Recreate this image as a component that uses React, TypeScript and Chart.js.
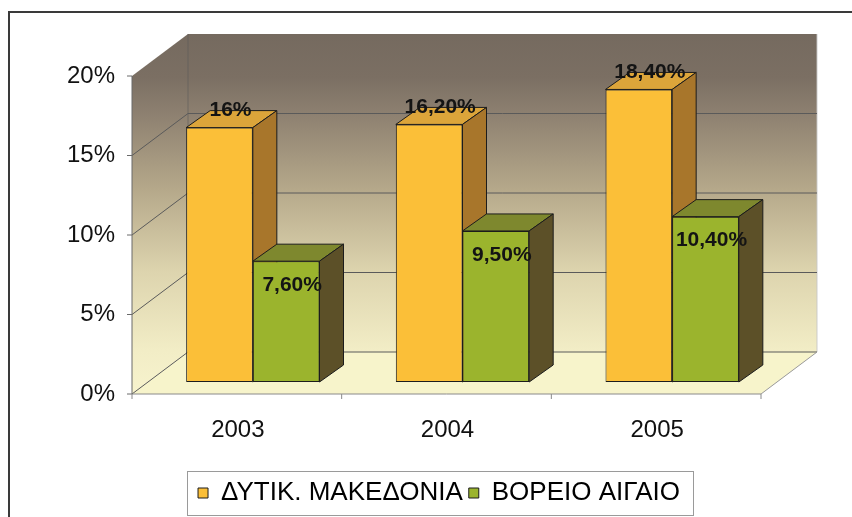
import React, { useEffect, useRef } from 'react';
import { Chart, registerables } from 'chart.js';

Chart.register(...registerables);

const categories = ['2003', '2004', '2005'];
const seriesNames = ['ΔΥΤΙΚ. ΜΑΚΕΔΟΝΙΑ', 'ΒΟΡΕΙΟ ΑΙΓΑΙΟ'];
const westMacedonia = [16, 16.2, 18.4];
const northAegean = [7.6, 9.5, 10.4];
const yMin = 0;
const yMax = 20;
const yStep = 5;

const FONT = "'Liberation Sans', Arial, sans-serif";

// 3D projection offsets relative to the bar (chart area) plane
const FRONT = { dx: -16, dy: 12 };
const BACK = { dx: 40, dy: -30 };
const BAR_DEPTH = { dx: 24, dy: -17 };
const LEGEND_SPAN = { left: 101, rightGap: 75 };

const COLORS = {
  yellow: { front: '#FBBF38', top: '#DCA53A', side: '#A8762B' },
  green: { front: '#9BB42D', top: '#7E882E', side: '#5C5028' },
  edge: '#1c1c1c',
};

const fmt = (v: number) =>
  Number.isInteger(v) ? `${v}%` : `${v.toFixed(2).replace('.', ',')}%`;

function poly(ctx: CanvasRenderingContext2D, pts: number[][], fill?: any, stroke?: string, lw = 1) {
  ctx.beginPath();
  pts.forEach((p, i) => (i ? ctx.lineTo(p[0], p[1]) : ctx.moveTo(p[0], p[1])));
  ctx.closePath();
  if (fill) {
    ctx.fillStyle = fill;
    ctx.fill();
  }
  if (stroke) {
    ctx.strokeStyle = stroke;
    ctx.lineWidth = lw;
    ctx.stroke();
  }
}

function line(ctx: CanvasRenderingContext2D, x1: number, y1: number, x2: number, y2: number, color: string, lw = 1) {
  ctx.beginPath();
  ctx.moveTo(x1, y1);
  ctx.lineTo(x2, y2);
  ctx.strokeStyle = color;
  ctx.lineWidth = lw;
  ctx.stroke();
}

const scene3d = {
  id: 'scene3d',
  afterLayout(chart: any) {
    const lg = chart.legend;
    if (lg) {
      lg.left = LEGEND_SPAN.left;
      lg.right = chart.width - LEGEND_SPAN.rightGap;
      lg.width = lg.right - lg.left;
    }
  },
  beforeDraw(chart: any) {
    const ctx: CanvasRenderingContext2D = chart.ctx;
    ctx.save();
    ctx.fillStyle = '#ffffff';
    ctx.fillRect(0, 0, chart.width, chart.height);
    ctx.strokeStyle = '#3a3a3a';
    ctx.lineWidth = 2;
    ctx.beginPath();
    ctx.moveTo(9, chart.height);
    ctx.lineTo(9, 12);
    ctx.lineTo(chart.width, 12);
    ctx.stroke();
    ctx.restore();
  },
  beforeDatasetsDraw(chart: any) {
    const ctx: CanvasRenderingContext2D = chart.ctx;
    const { chartArea: ca, scales } = chart;
    const y = scales.y;
    const L = ca.left;
    const R = ca.right;
    const yTop = y.getPixelForValue(yMax);
    const y0 = y.getPixelForValue(yMin);
    const F = (px: number, py: number) => [px + FRONT.dx, py + FRONT.dy];
    const B = (px: number, py: number) => [px + BACK.dx, py + BACK.dy];

    ctx.save();
    const grad = ctx.createLinearGradient(0, yTop + BACK.dy, 0, y0 + FRONT.dy);
    grad.addColorStop(0, '#756a5f');
    grad.addColorStop(0.12, '#7b6f63');
    grad.addColorStop(0.22, '#8d8070');
    grad.addColorStop(0.43, '#b5a88a');
    grad.addColorStop(0.66, '#ddd4ae');
    grad.addColorStop(0.88, '#f2edc6');
    grad.addColorStop(1, '#f7f3cd');

    // back wall
    poly(ctx, [B(L, yTop), B(R, yTop), B(R, y0), B(L, y0)], grad);
    // side wall
    poly(ctx, [F(L, yTop), B(L, yTop), B(L, y0), F(L, y0)], grad);
    // floor
    poly(ctx, [F(L, y0), F(R, y0), B(R, y0), B(L, y0)], '#f7f4cb');

    // back wall right edge / corner
    line(ctx, B(R, yTop)[0], B(R, yTop)[1], B(R, y0)[0], B(R, y0)[1], 'rgba(200,200,200,0.9)');
    line(ctx, B(L, yTop)[0], B(L, yTop)[1], B(L, y0)[0], B(L, y0)[1], 'rgba(90,90,90,0.55)');

    // gridlines
    for (let v = yMin; v < yMax; v += yStep) {
      const py = y.getPixelForValue(v);
      const f = F(L, py);
      const b = B(L, py);
      const br = B(R, py);
      line(ctx, f[0], f[1], b[0], b[1], '#5a5a5a');
      line(ctx, b[0], b[1], br[0], br[1], '#5a5a5a');
    }
    // floor right edge and front edge
    line(ctx, F(R, y0)[0], F(R, y0)[1], B(R, y0)[0], B(R, y0)[1], '#9a9a9a');
    line(ctx, F(L, y0)[0], F(L, y0)[1], F(R, y0)[0], F(R, y0)[1], '#8a8a8a');

    // front vertical axis
    line(ctx, F(L, yTop)[0], F(L, yTop)[1], F(L, y0)[0], F(L, y0)[1], '#6a6a6a');
    for (let v = yMin; v <= yMax; v += yStep) {
      const p = F(L, y.getPixelForValue(v));
      line(ctx, p[0] - 5, p[1], p[0], p[1], '#6a6a6a');
    }
    // category ticks
    const catW = (R - L) / categories.length;
    for (let k = 0; k <= categories.length; k++) {
      const p = F(L + k * catW, y0);
      line(ctx, p[0], p[1], p[0], p[1] + 5, '#8a8a8a');
    }
    ctx.restore();
  },
  afterDatasetsDraw(chart: any) {
    const ctx: CanvasRenderingContext2D = chart.ctx;
    const m0 = chart.getDatasetMeta(0);
    const m1 = chart.getDatasetMeta(1);
    const faces = (el: any, c: any) => {
      const w = el.width;
      const l = el.x - w / 2;
      const r = el.x + w / 2;
      const t = el.y;
      const b = el.base;
      const d = BAR_DEPTH;
      poly(ctx, [[l, t], [r, t], [r + d.dx, t + d.dy], [l + d.dx, t + d.dy]], c.top, COLORS.edge);
      poly(ctx, [[r, t], [r + d.dx, t + d.dy], [r + d.dx, b + d.dy], [r, b]], c.side, COLORS.edge);
    };
    ctx.save();
    ctx.lineJoin = 'round';
    for (let i = 0; i < categories.length; i++) {
      faces(m0.data[i], COLORS.yellow);
      m1.data[i].draw(ctx);
      faces(m1.data[i], COLORS.green);
    }
    // data labels
    ctx.font = `bold 21px ${FONT}`;
    ctx.fillStyle = '#141414';
    ctx.textAlign = 'center';
    ctx.textBaseline = 'middle';
    for (let i = 0; i < categories.length; i++) {
      const a = m0.data[i];
      ctx.fillText(fmt(westMacedonia[i]), a.x + 11, a.y - 17);
      const g = m1.data[i];
      ctx.fillText(fmt(northAegean[i]), g.x + 6, g.y + 24);
    }
    ctx.restore();
  },
  afterDraw(chart: any) {
    const lg = chart.legend;
    if (!lg || !lg.legendHitBoxes || !lg.legendHitBoxes.length) return;
    const hb = lg.legendHitBoxes;
    const left = Math.min(...hb.map((h: any) => h.left));
    const right = Math.max(...hb.map((h: any) => h.left + h.width));
    const cy = hb[0].top + hb[0].height / 2;
    const ctx: CanvasRenderingContext2D = chart.ctx;
    ctx.save();
    ctx.strokeStyle = '#9a9a9a';
    ctx.lineWidth = 1;
    ctx.strokeRect(Math.round(left - 11) + 0.5, Math.round(cy - 22) + 0.5, Math.round(right - left + 24), 44);
    ctx.restore();
  },
};

export default function App() {
  const ref = useRef<HTMLCanvasElement>(null);
  useEffect(() => {
    if (!ref.current) return;
    Chart.defaults.font.family = FONT;
    const chart = new Chart(ref.current, {
      type: 'bar',
      data: {
        labels: categories,
        datasets: [
          {
            label: seriesNames[0],
            data: westMacedonia,
            backgroundColor: COLORS.yellow.front,
            borderColor: COLORS.edge,
            borderWidth: 1,
            borderSkipped: false,
          },
          {
            label: seriesNames[1],
            data: northAegean,
            backgroundColor: COLORS.green.front,
            borderColor: COLORS.edge,
            borderWidth: 1,
            borderSkipped: false,
          },
        ],
      },
      options: {
        responsive: false,
        animation: false,
        devicePixelRatio: 1,
        layout: { padding: { left: 0, right: 75, top: 64, bottom: 1 } },
        datasets: { bar: { barPercentage: 1, categoryPercentage: 0.636 } },
        plugins: {
          tooltip: { enabled: false },
          legend: {
            position: 'bottom',
            labels: {
              font: { size: 26, family: FONT },
              color: '#000',
              boxWidth: 10,
              boxHeight: 10,
              padding: 6,
            },
          },
        },
        scales: {
          x: {
            grid: { display: false },
            border: { display: false },
            ticks: { font: { size: 24, family: FONT }, color: '#111', padding: 26, labelOffset: -15 },
            afterFit: (s: any) => {
              s.height = 92;
            },
          },
          y: {
            min: yMin,
            max: yMax,
            grid: { display: false },
            border: { display: false },
            ticks: {
              stepSize: yStep,
              font: { size: 24, family: FONT },
              color: '#111',
              padding: 25,
              labelOffset: 12,
              callback: (v: any) => `${v}%`,
            },
            afterFit: (s: any) => {
              s.width = 148;
            },
          },
        },
      },
      plugins: [scene3d],
    } as any);
    return () => chart.destroy();
  }, []);
  return (
    <div style={{ position: 'fixed', left: 0, top: 0, width: 852, height: 517, background: '#fff' }}>
      <canvas ref={ref} width={852} height={517} style={{ display: 'block', width: 852, height: 517 }} />
    </div>
  );
}
